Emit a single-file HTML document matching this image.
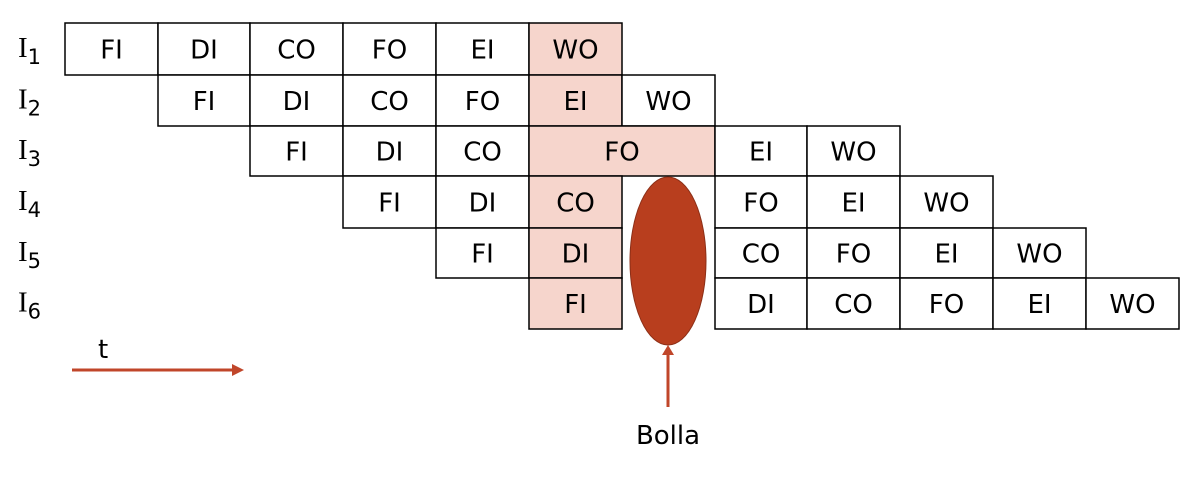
<!DOCTYPE html>
<html><head><meta charset="utf-8"><style>
body{margin:0;background:#fff;}
svg{display:block;font-family:"DejaVu Sans","Liberation Sans",sans-serif;}
</style></head><body>
<svg id="chart" width="1188" height="494" viewBox="0 0 1188 494"></svg>
<script>
const colEdges=[65,158,250,343,436,529,622,715,807,900,993,1086,1179];
const rowEdges=[23,75,126,176,228,278,329];
const instrLabels=["1","2","3","4","5","6"];
// each cell: [row, startCol, span, label, stalled]
const cells=[
[0,0,1,"FI",0],[0,1,1,"DI",0],[0,2,1,"CO",0],[0,3,1,"FO",0],[0,4,1,"EI",0],[0,5,1,"WO",1],
[1,1,1,"FI",0],[1,2,1,"DI",0],[1,3,1,"CO",0],[1,4,1,"FO",0],[1,5,1,"EI",1],[1,6,1,"WO",0],
[2,2,1,"FI",0],[2,3,1,"DI",0],[2,4,1,"CO",0],[2,5,2,"FO",1],[2,7,1,"EI",0],[2,8,1,"WO",0],
[3,3,1,"FI",0],[3,4,1,"DI",0],[3,5,1,"CO",1],[3,7,1,"FO",0],[3,8,1,"EI",0],[3,9,1,"WO",0],
[4,4,1,"FI",0],[4,5,1,"DI",1],[4,7,1,"CO",0],[4,8,1,"FO",0],[4,9,1,"EI",0],[4,10,1,"WO",0],
[5,5,1,"FI",1],[5,7,1,"DI",0],[5,8,1,"CO",0],[5,9,1,"FO",0],[5,10,1,"EI",0],[5,11,1,"WO",0]
];
const NS="http://www.w3.org/2000/svg";
const svg=document.getElementById('chart');
function mk(t,a){const e=document.createElementNS(NS,t);for(const k in a)e.setAttribute(k,a[k]);svg.appendChild(e);return e;}
cells.forEach(c=>{
  const x=colEdges[c[1]],x2=colEdges[c[1]+c[2]],y=rowEdges[c[0]],y2=rowEdges[c[0]+1];
  const r=mk('rect',{x:x,y:y,width:x2-x,height:y2-y,fill:c[4]?'#F6D5CC':'#fff',stroke:'#000','stroke-width':1.5});
  
  
  const t=mk('text',{x:(x+x2)/2,y:(y+y2)/2+9.5,'text-anchor':'middle','font-size':26,fill:'#000'});
  t.textContent=c[3];
  
  
});
instrLabels.forEach((s,i)=>{
  const t=mk('text',{x:18,y:(rowEdges[i]+rowEdges[i+1])/2+8,'font-size':29,'font-family':'Liberation Serif, serif',fill:'#000'});
  t.innerHTML='I<tspan font-size="21" font-family="DejaVu Sans, sans-serif" dy="7">'+s+'</tspan>';
  
  
});
</script>
<svg style="position:absolute;left:0;top:0" width="1188" height="494">
<ellipse cx="668" cy="261" rx="38" ry="84" fill="#B83E1E" stroke="#8c2f17" stroke-width="1"/>
<line x1="668" y1="407" x2="668" y2="354" stroke="#C0462A" stroke-width="3"/>
<polygon points="668,345 662,355 674,355" fill="#C0462A"/>
<text x="668" y="444" text-anchor="middle" font-size="26" font-family="DejaVu Sans, sans-serif">Bolla</text>
<line x1="72" y1="370" x2="234" y2="370" stroke="#C0462A" stroke-width="3"/>
<polygon points="244,370 232,364 232,376" fill="#C0462A"/>
<text x="98" y="358" font-size="26" font-family="DejaVu Sans, sans-serif">t</text>
</svg>
</body></html>
